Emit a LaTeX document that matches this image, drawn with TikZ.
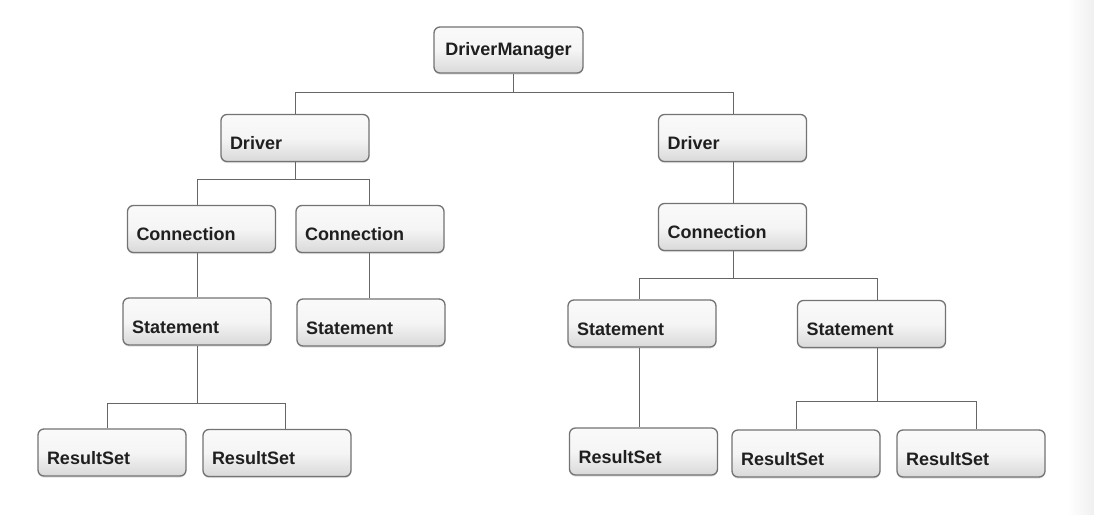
\documentclass[tikz,border=0pt]{standalone}
\usepackage{fontspec}
\setmainfont{Liberation Sans}
\usetikzlibrary{shadows}
\begin{document}
\begin{tikzpicture}[x=1pt,y=-1pt,
  box/.style={rectangle, rounded corners=6pt, draw=black!55, line width=1.3pt,
    top color=gray!4, bottom color=gray!30, middle color=gray!8,
    drop shadow={shadow xshift=0pt, shadow yshift=-1.5pt, opacity=0.25},
    font=\fontsize{18}{20}\selectfont\bfseries, text=black!88,
    inner xsep=9pt, inner ysep=0pt, align=left,
    text width=130pt, text height=35pt, text depth=12pt},
  link/.style={draw=black!60, line width=0.9pt}]
\useasboundingbox (0,0) rectangle (1094,514);
\fill[white] (0,0) rectangle (1094,514);
\shade[left color=white, right color=gray!12] (1068,0) rectangle (1094,514);

% boxes
\node[box, align=center, text height=28pt, text depth=18pt, text width=131pt] (dm) at (508.5,50) {DriverManager};
\node[box] (d1) at (295,138) {Driver};
\node[box] (d2) at (732.5,138) {Driver};
\node[box] (c1) at (201.5,229) {Connection};
\node[box] (c2) at (370,229) {Connection};
\node[box] (c3) at (732.5,227) {Connection};
\node[box] (s1) at (197,321.5) {Statement};
\node[box] (s2) at (371,322.5) {Statement};
\node[box] (s3) at (642,323.5) {Statement};
\node[box] (s4) at (871.5,324) {Statement};
\node[box] (r1) at (112,452.5) {ResultSet};
\node[box] (r2) at (277,453) {ResultSet};
\node[box] (r3) at (643.5,451.5) {ResultSet};
\node[box] (r4) at (806,453.5) {ResultSet};
\node[box] (r5) at (971,453.5) {ResultSet};

% junctions
\coordinate (j1) at (513,92);  \coordinate (j1l) at (295,92);  \coordinate (j1r) at (733,92);
\coordinate (j2) at (295,179); \coordinate (j2l) at (197,179); \coordinate (j2r) at (369,179);
\coordinate (j3) at (197,403); \coordinate (j3l) at (107,403); \coordinate (j3r) at (285,403);
\coordinate (j4) at (733,278); \coordinate (j4l) at (639,278); \coordinate (j4r) at (877,278);
\coordinate (j5) at (877,401); \coordinate (j5l) at (796,401); \coordinate (j5r) at (976,401);

\begin{scope}[on background layer/.style={}]
\path[link] (j1 |- dm.south) -- (j1);
\path[link] (j1l |- d1.north) -- (j1l) -- (j1r) -- (j1r |- d2.north);
\path[link] (d1.south) -- (j2);
\path[link] (j2l |- c1.north) -- (j2l) -- (j2r) -- (j2r |- c2.north);
\path[link] (j2l |- c1.south) -- (j2l |- s1.north);
\path[link] (j2r |- c2.south) -- (j2r |- s2.north);
\path[link] (s1.south) -- (j3);
\path[link] (j3l |- r1.north) -- (j3l) -- (j3r) -- (j3r |- r2.north);
\path[link] (j1r |- d2.south) -- (j1r |- c3.north);
\path[link] (j4 |- c3.south) -- (j4);
\path[link] (j4l |- s3.north) -- (j4l) -- (j4r) -- (j4r |- s4.north);
\path[link] (j4l |- s3.south) -- (j4l |- r3.north);
\path[link] (j5 |- s4.south) -- (j5);
\path[link] (j5l |- r4.north) -- (j5l) -- (j5r) -- (j5r |- r5.north);
\end{scope}
\end{tikzpicture}
\end{document}
